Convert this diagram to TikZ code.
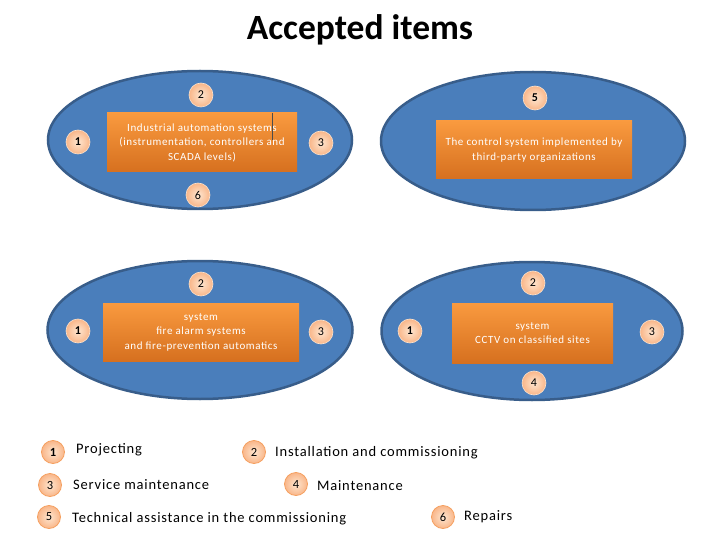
\documentclass[tikz,border=0pt]{standalone}
\usepackage{fontspec}
\setmainfont{Carlito}
\newfontfamily\spacedfont[LetterSpace=5.5]{Carlito}
\usetikzlibrary{shapes.geometric}
\definecolor{ellfill}{HTML}{4A7EBB}
\definecolor{ellline}{HTML}{385D8A}
\definecolor{boxtop}{HTML}{F99A3F}
\definecolor{boxbot}{HTML}{D6701F}
\definecolor{peachin}{HTML}{FEE6D0}
\definecolor{peachout}{HTML}{F9B689}
\definecolor{peachline}{HTML}{FCE2CC}
\definecolor{legline}{HTML}{F5A060}
\tikzset{
  oval/.style={ellipse, draw=ellline, line width=2.5pt, fill=ellfill, inner sep=0pt},
  itembox/.style={rectangle, draw=none, top color=boxtop, bottom color=boxbot, inner sep=0pt,
    text=white, font=\spacedfont\fontsize{11}{14.5}\selectfont, align=center},
  num/.style={circle, minimum size=24pt, inner sep=0pt, inner color=peachin, outer color=peachout,
    draw=peachline, line width=0.6pt, font=\fontsize{12}{12}\selectfont},
  legnum/.style={circle, minimum size=23pt, inner sep=0pt, inner color=peachin, outer color=peachout,
    draw=legline, line width=0.8pt, font=\fontsize{12.5}{12}\selectfont},
  legtext/.style={anchor=west, inner sep=0pt, font=\spacedfont\fontsize{14.5}{14}\selectfont}
}
\begin{document}
\begin{tikzpicture}[x=1pt,y=-1pt]
\useasboundingbox (0,0) rectangle (720,540);
% title
\node[font=\fontsize{35.5}{36}\selectfont\bfseries] (title) at (360,30) {Accepted items};
% ellipses
\node[oval, minimum width=304pt, minimum height=138pt] (e1) at (200,140) {};
\node[oval, minimum width=304pt, minimum height=138pt] (e2) at (533,141) {};
\node[oval, minimum width=305pt, minimum height=138pt] (e3) at (200,330) {};
\node[oval, minimum width=301pt, minimum height=138pt] (e4) at (532,331) {};
% boxes
\node[itembox, minimum width=190pt, minimum height=59pt] (b1) at (202,142.5)
  {Industrial automation systems\\(instrumentation, controllers and\\SCADA levels)};
\draw[black!70, line width=0.6pt] (272,113) -- (272,140);
\node[itembox, minimum width=196pt, minimum height=58pt] (b2) at (534,150)
  {The control system implemented by\\third-party organizations};
\node[itembox, minimum width=196pt, minimum height=58pt] (b3) at (201,332)
  {system\\fire alarm systems\\and fire-prevention automatics};
\node[itembox, minimum width=161pt, minimum height=60pt] (b4) at (532.5,333)
  {system\\CCTV on classified sites};
% numbers in ellipse 1
\node[num] (e1n2) at (201,95) {2};
\node[num, font=\fontsize{12}{12}\selectfont\bfseries] (e1n1) at (78,142) {1};
\node[num] (e1n3) at (321,143) {3};
\node[num] (e1n6) at (198,195) {6};
% ellipse 2
\node[num, font=\fontsize{12}{12}\selectfont\bfseries] (e2n5) at (535,98) {5};
% ellipse 3
\node[num] (e3n2) at (201,284) {2};
\node[num, font=\fontsize{12}{12}\selectfont\bfseries] (e3n1) at (78,331) {1};
\node[num] (e3n3) at (321,332) {3};
% ellipse 4
\node[num] (e4n2) at (533,283) {2};
\node[num, font=\fontsize{12}{12}\selectfont\bfseries] (e4n1) at (410,331) {1};
\node[num] (e4n3) at (652,332) {3};
\node[num] (e4n4) at (534,383) {4};
% legend
\node[legnum, font=\fontsize{12.5}{12}\selectfont\bfseries] (l1) at (53,452) {1};
\node[legtext] (t1) at (76,450) {Projecting};
\node[legnum] (l2) at (254,452) {2};
\node[legtext] (t2) at (275,453) {Installation and commissioning};
\node[legnum] (l3) at (50,485) {3};
\node[legtext] (t3) at (73,485) {Service maintenance};
\node[legnum] (l4) at (296,484) {4};
\node[legtext] (t4) at (317,486) {Maintenance};
\node[legnum] (l5) at (49,517) {5};
\node[legtext] (t5) at (72,519) {Technical assistance in the commissioning};
\node[legnum] (l6) at (443,517) {6};
\node[legtext] (t6) at (464,517) {Repairs};
\end{tikzpicture}
\end{document}
